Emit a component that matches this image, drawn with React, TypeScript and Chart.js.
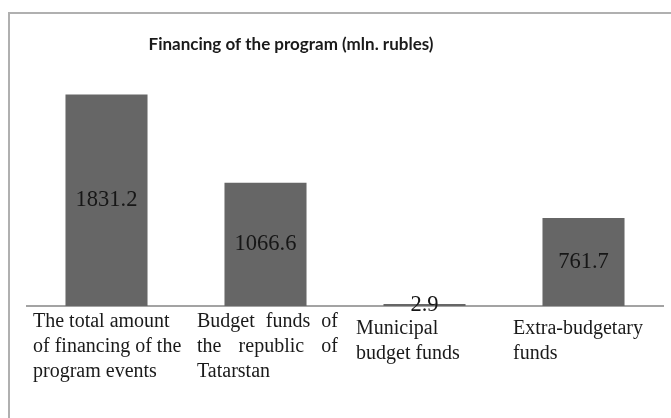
import React, { useEffect, useRef } from "react";
import { Chart, registerables } from "chart.js";

Chart.register(...registerables);

const categories: string[][] = [
  ["The total amount", "of financing of the", "program events"],
  ["Budget funds of", "the republic of", "Tatarstan"],
  ["Municipal", "budget funds"],
  ["Extra-budgetary", "funds"],
];
const values: number[] = [1831.2, 1066.6, 2.9, 761.7];
const chartTitle = "Financing of the program (mln. rubles)";
const yMin = 0;
const yMax = 2000;

const SERIF = '"Liberation Serif", "Times New Roman", serif';

const textPlugin = {
  id: "customText",
  afterDatasetsDraw(chart: any) {
    const ctx = chart.ctx;
    const meta = chart.getDatasetMeta(0);
    ctx.save();
    ctx.fillStyle = "#161616";
    ctx.font = `22.5px ${SERIF}`;
    ctx.textAlign = "center";
    ctx.textBaseline = "middle";
    meta.data.forEach((bar: any, i: number) => {
      const { x, y, base } = bar.getProps(["x", "y", "base"], true);
      ctx.fillText(values[i].toFixed(1), x, (y + base) / 2);
    });
    ctx.restore();
  },
  afterDraw(chart: any) {
    const ctx = chart.ctx;
    const xs = chart.scales.x;
    const area = chart.chartArea;
    const catW = xs.width / categories.length;
    const xOff = [6, 11, 11, 9];
    const yOff = [0, 0, 7, 7];
    const justifyW: (number | null)[] = [null, 141, null, null];
    const lineH = 25;
    ctx.save();
    ctx.fillStyle = "#1a1a1a";
    ctx.font = `20px ${SERIF}`;
    ctx.textBaseline = "alphabetic";
    ctx.textAlign = "left";
    categories.forEach((lines, i) => {
      const left = xs.getPixelForValue(i) - catW / 2 + xOff[i];
      lines.forEach((line, j) => {
        const y = area.bottom + 21 + yOff[i] + j * lineH;
        const jw = justifyW[i];
        if (jw && j < lines.length - 1) {
          const words = line.split(" ");
          const widths = words.map((w) => ctx.measureText(w).width);
          const total = widths.reduce((a, b) => a + b, 0);
          const gap = words.length > 1 ? (jw - total) / (words.length - 1) : 0;
          let cx = left;
          words.forEach((w, k) => {
            ctx.fillText(w, cx, y);
            cx += widths[k] + gap;
          });
        } else {
          ctx.fillText(line, left, y);
        }
      });
    });
    // title
    ctx.fillStyle = "#1a1a1a";
    ctx.font = 'bold 17px Lato, "Liberation Sans", sans-serif';
    ctx.textAlign = "center";
    ctx.textBaseline = "middle";
    ctx.fillText(chartTitle, 291, 45);
    ctx.restore();
  },
};

export default function App() {
  const ref = useRef<HTMLCanvasElement>(null);
  useEffect(() => {
    const canvas = ref.current;
    if (!canvas) return;
    const chart = new Chart(canvas, {
      type: "bar",
      data: {
        labels: categories.map((c) => c.join(" ")),
        datasets: [
          {
            data: values,
            backgroundColor: "#666666",
            borderWidth: 0,
            barPercentage: 0.516,
            categoryPercentage: 1,
            minBarLength: 2,
          },
        ],
      },
      options: {
        responsive: false,
        animation: false,
        devicePixelRatio: 1,
        layout: { padding: { left: 27, right: 8, top: 75, bottom: 112 } },
        plugins: {
          legend: { display: false },
          title: { display: false },
          tooltip: { enabled: false },
        },
        scales: {
          x: {
            grid: { display: false, drawTicks: false },
            ticks: { display: false },
            border: { display: true, color: "#a3a3a3", width: 2 },
          },
          y: {
            display: false,
            min: yMin,
            max: yMax,
          },
        },
      },
      plugins: [textPlugin],
    });
    return () => chart.destroy();
  }, []);
  return (
    <>
      <div
        style={{
          position: "absolute",
          left: 8,
          top: 12,
          width: 663,
          height: 406,
          boxSizing: "border-box",
          borderTop: "2px solid #b0b0b0",
          borderLeft: "2px solid #b0b0b0",
        }}
      />
      <canvas
        ref={ref}
        width={671}
        height={418}
        style={{ position: "absolute", left: 0, top: 0, width: 671, height: 418 }}
      />
    </>
  );
}
